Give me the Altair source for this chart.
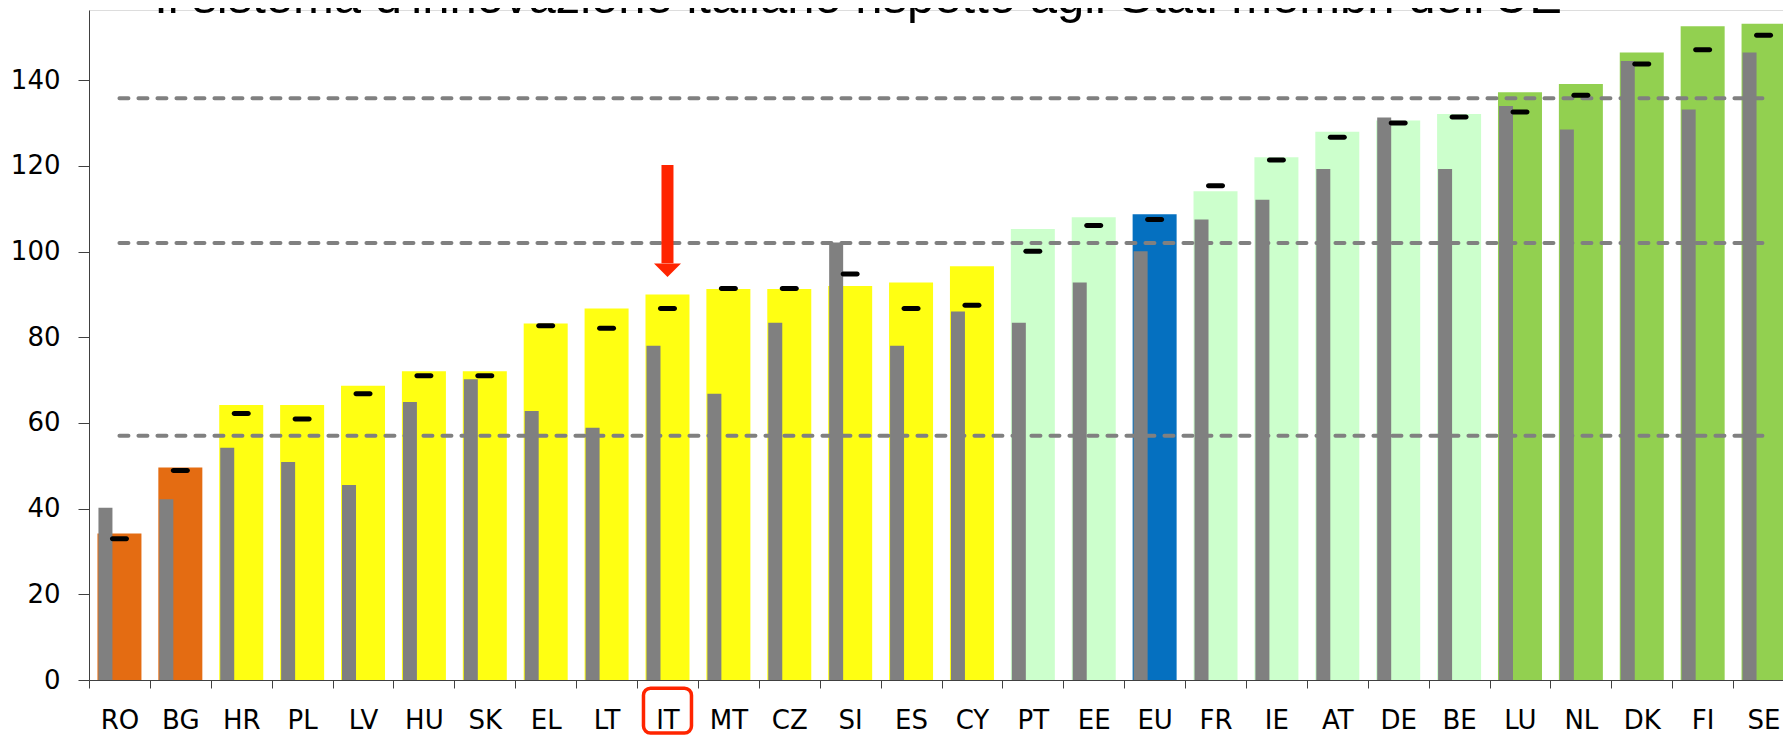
import altair as alt
import pandas as pd

# ---- data ----
countries = ["RO", "BG", "HR", "PL", "LV", "HU", "SK", "EL", "LT", "IT", "MT", "CZ", "SI", "ES",
             "CY", "PT", "EE", "EU", "FR", "IE", "AT", "DE", "BE", "LU", "NL", "DK", "FI", "SE"]
groups = (["Modest"] * 2 + ["Moderate"] * 13 + ["Strong"] * 2 + ["EU"] + ["Strong"] * 5 + ["Leader"] * 5)
score_now = [34.2, 49.6, 64.2, 64.2, 68.7, 72.1, 72.1, 83.2, 86.7, 90.0, 91.3, 91.3, 92.0, 92.8,
             96.6, 105.3, 108.0, 108.7, 114.1, 122.0, 128.0, 130.6, 132.1, 137.2, 139.1, 146.5, 152.6, 153.2]
score_past = [40.2, 42.2, 54.2, 50.9, 45.5, 64.9, 70.2, 62.8, 58.9, 78.0, 66.8, 83.4, 102.1, 78.0,
              86.0, 83.4, 92.8, 100.1, 107.5, 112.1, 119.3, 131.3, 119.3, 134.0, 128.5, 144.5, 133.2, 146.5]
score_mark = [33.0, 48.9, 62.2, 60.9, 66.8, 71.0, 71.0, 82.7, 82.1, 86.7, 91.4, 91.4, 94.8, 86.7,
              87.5, 100.1, 106.1, 107.5, 115.4, 121.4, 126.7, 130.0, 131.4, 132.6, 136.5, 143.8, 147.1, 150.5]
threshold_values = [57.0, 102.0, 135.8]
y_ticks = [0, 20, 40, 60, 80, 100, 120, 140]

group_names = ["Modest", "Moderate", "Strong", "EU", "Leader"]
group_colors = ["#E46C12", "#FFFF12", "#CCFFCC", "#0570C0", "#92D050"]

highlight_country = "IT"
arrow_top, arrow_head_base, arrow_tip = 120.2, 97.3, 94.1
box_top, box_bottom = -1.9, -12.4

title_text = "Il sistema d'innovazione italiano rispetto agli Stati membri dell'UE"

df = pd.DataFrame({"country": countries, "group": groups, "now": score_now,
                   "past": score_past, "mark": score_mark})
rules = pd.DataFrame({"value": threshold_values,
                      "start": [countries[0]] * len(threshold_values),
                      "end": [countries[-1]] * len(threshold_values)})
hl = pd.DataFrame({"country": [highlight_country], "top": [arrow_top], "base": [arrow_head_base],
                   "tip": [arrow_tip], "b1": [box_top], "b2": [box_bottom]})
title_df = pd.DataFrame({"label": [title_text]})

FONT = "DejaVu Sans"
band_total = 1705
x_scale = alt.Scale(domain=countries, range=[0, band_total], paddingInner=0, paddingOuter=0)
y_scale = alt.Scale(domain=[0, 156.4], nice=False, zero=True)

x_enc = alt.X("country:N", scale=x_scale, sort=countries,
              axis=alt.Axis(title=None, labelAngle=0, labelFont=FONT, labelFontSize=26,
                            labelColor="black", tickBand="extent", tickSize=8,
                            tickColor="#404040", domainColor="#404040", labelPadding=19))
y_enc = alt.Y("now:Q", scale=y_scale,
              axis=alt.Axis(title=None, values=y_ticks, grid=False, tickSize=11,
                            labelPadding=18, labelFont=FONT, labelFontSize=26,
                            labelColor="black", tickColor="#404040", domainColor="#404040"))

base = alt.Chart(df)

colored = base.mark_bar(width=44).encode(
    x=x_enc, y=y_enc,
    color=alt.Color("group:N", scale=alt.Scale(domain=group_names, range=group_colors), legend=None),
)
gray = base.mark_bar(width=14, xOffset=-14, color="#808080").encode(
    x=alt.X("country:N", scale=x_scale, sort=countries),
    y=alt.Y("past:Q", scale=y_scale),
)
dashed = alt.Chart(rules).mark_rule(color="#808080", strokeWidth=4, strokeDash=[9, 10],
                                    strokeCap="round").encode(
    x=alt.X("start:N", scale=x_scale, sort=countries),
    x2="end:N",
    y=alt.Y("value:Q", scale=y_scale),
)
marks = base.mark_tick(color="black", size=19, thickness=5, cornerRadius=2.5, opacity=1).encode(
    x=alt.X("country:N", scale=x_scale, sort=countries),
    y=alt.Y("mark:Q", scale=y_scale),
)
shaft = alt.Chart(hl).mark_bar(width=12, color="#FF2400").encode(
    x=alt.X("country:N", scale=x_scale, sort=countries),
    y=alt.Y("top:Q", scale=y_scale),
    y2="base:Q",
)
head = alt.Chart(hl).mark_point(shape="M-1,-1L1,-1L0,0Z", size=729, filled=True,
                                 color="#FF2400", opacity=1, strokeWidth=0).encode(
    x=alt.X("country:N", scale=x_scale, sort=countries),
    y=alt.Y("tip:Q", scale=y_scale),
)
box = alt.Chart(hl).mark_bar(width=48, filled=False, stroke="#FF2400", strokeWidth=3.5,
                              cornerRadius=7, clip=False, fill=None).encode(
    x=alt.X("country:N", scale=x_scale, sort=countries),
    y=alt.Y("b1:Q", scale=y_scale),
    y2="b2:Q",
)
title_mark = alt.Chart(title_df).mark_text(font="Liberation Sans", fontSize=49, color="black",
                                            align="center", baseline="alphabetic").encode(
    text="label:N",
    x=alt.value(769),
    y=alt.value(3),
)

chart = alt.layer(colored, gray, dashed, marks, shaft, head, box, title_mark).properties(
    width=1694, height=670,
    autosize=alt.AutoSizeParams(type="none"),
    padding={"left": 81, "top": 2, "right": 0, "bottom": 55},
).configure_view(stroke=None).configure(background="white")

chart.save("out.html", embed_options={"renderer": "svg", "actions": False})
